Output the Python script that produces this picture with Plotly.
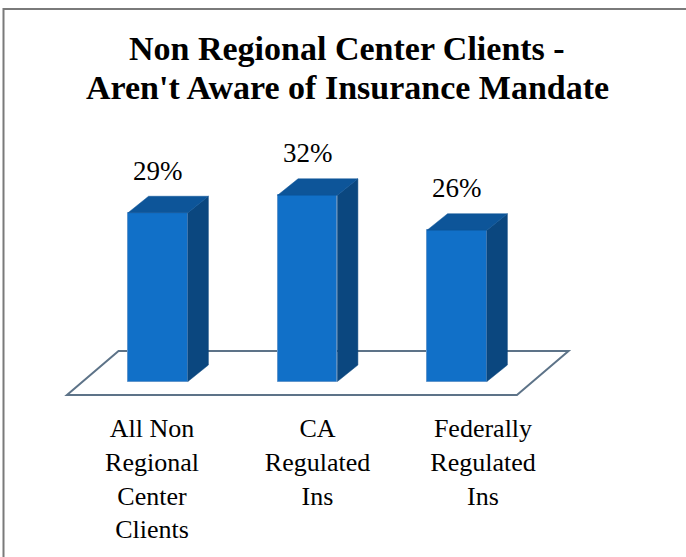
import plotly.graph_objects as go

categories = ["All Non<br>Regional<br>Center<br>Clients", "CA<br>Regulated<br>Ins", "Federally<br>Regulated<br>Ins"]
values = [29, 32, 26]
value_labels = ["29%", "32%", "26%"]
title_lines = ["Non Regional Center Clients -", "Aren't Aware of Insurance Mandate"]

W, H = 686, 557
FRONT = "#1170c8"
SIDE = "#0b477f"
TOP = "#0d5599"
EDGE = "#5f95cc"
SERIF = "Liberation Serif, Times New Roman, serif"

bar_w = 0.40
dx, dy = 0.137, 2.83      # depth offset (x units, value units)

pos = list(range(len(values)))

fig = go.Figure()

# front faces
fig.add_trace(go.Bar(
    x=pos, y=values, width=bar_w,
    marker=dict(color=FRONT, line=dict(color=EDGE, width=1)),
    hoverinfo="skip", showlegend=False,
))

# side and top faces
for i, v in zip(pos, values):
    xr = i + bar_w / 2
    xl = i - bar_w / 2
    fig.add_trace(go.Scatter(
        x=[xr, xr + dx, xr + dx, xr, xr], y=[0, dy, v + dy, v, 0],
        fill="toself", fillcolor=SIDE, mode="lines",
        line=dict(color=SIDE, width=0.5), hoverinfo="skip", showlegend=False))
    fig.add_trace(go.Scatter(
        x=[xl, xr, xr + dx, xl + dx, xl], y=[v, v, v + dy, v + dy, v],
        fill="toself", fillcolor=TOP, mode="lines",
        line=dict(color=TOP, width=0.5), hoverinfo="skip", showlegend=False))

# invisible trace to carry category axis
fig.add_trace(go.Scatter(
    x=categories, y=[0] * len(categories), xaxis="x2", mode="markers",
    marker=dict(opacity=0), hoverinfo="skip", showlegend=False))

# data labels
for i, v, t in zip(pos, values, value_labels):
    fig.add_annotation(x=i, y=v, text=t, showarrow=False, yanchor="middle",
                       yshift=42, font=dict(family=SERIF, size=27, color="black"))

# title (two lines)
for line, ypx in zip(title_lines, [48.5, 87.5]):
    fig.add_annotation(x=0.506, y=1 - ypx / H, xref="paper", yref="paper",
                       text=f"<b>{line}</b>", showarrow=False,
                       xanchor="center", yanchor="middle",
                       font=dict(family=SERIF, size=34, color="black"))

# floor
fl, fr, fb, ff, off = -0.609, 2.401, 5.24, -2.32, 0.345
floor_path = (f"M {fl},{ff} L {fr},{ff} L {fr + off},{fb} L {fl + off},{fb} Z")
fig.add_shape(type="path", path=floor_path, xref="x", yref="y", layer="below",
              line=dict(color="#5d7388", width=2), fillcolor="white")

# outer frame
fig.add_shape(type="rect", xref="paper", yref="paper",
              x0=3.5 / W, x1=1.05, y0=-0.1, y1=1 - 9 / H,
              line=dict(color="#7a7a7a", width=2), fillcolor="rgba(0,0,0,0)")

px_per_x = 149.5
x0px = 158
px_per_v = 5.82
zero_px = 381.5

fig.update_layout(
    width=W, height=H,
    margin=dict(l=0, r=0, t=0, b=0),
    paper_bgcolor="white", plot_bgcolor="white",
    xaxis=dict(range=[-x0px / px_per_x, (W - x0px) / px_per_x], visible=False,
               domain=[0, 1]),
    xaxis2=dict(type="category", range=[-152 / 165.5, (W - 152) / 165.5],
                anchor="free", position=(H - 410) / H, overlaying="x",
                side="bottom", showline=False, showgrid=False, zeroline=False,
                ticks="", tickfont=dict(family=SERIF, size=26, color="black")),
    yaxis=dict(range=[-(H - zero_px) / px_per_v, zero_px / px_per_v], visible=False,
               domain=[0, 1]),
    bargap=0,
)

fig.write_html("out.html", config={"displayModeBar": False},
               post_script="document.body.style.margin='0';")
